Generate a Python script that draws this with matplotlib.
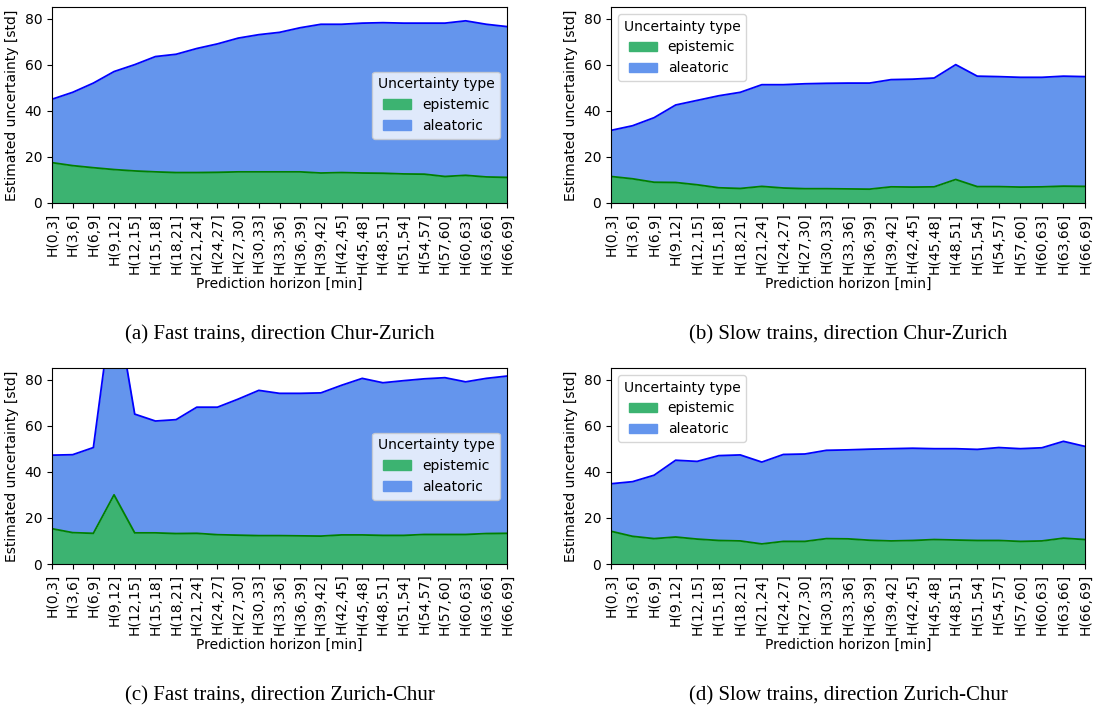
import matplotlib
matplotlib.use("Agg")
import matplotlib.pyplot as plt
import numpy as np
from matplotlib.patches import Patch

horizons = [f"H({s},{s+3}]" for s in range(0, 69, 3)]

epi_a = [17.5, 16.2, 15.3, 14.5, 13.9, 13.5, 13.2, 13.2, 13.3, 13.5, 13.5, 13.5,
         13.5, 13.0, 13.2, 13.0, 12.9, 12.6, 12.5, 11.5, 12.0, 11.3, 11.1]
tot_a = [45.0, 48.0, 52.0, 57.0, 60.0, 63.5, 64.5, 67.0, 69.0, 71.5, 73.0, 74.0,
         76.0, 77.5, 77.5, 78.0, 78.2, 78.0, 78.0, 78.0, 79.0, 77.5, 76.5]

epi_b = [11.5, 10.5, 9.0, 8.9, 7.9, 6.6, 6.3, 7.2, 6.5, 6.2, 6.2, 6.1,
         6.0, 7.0, 6.9, 7.0, 10.2, 7.1, 7.1, 6.9, 7.0, 7.3, 7.2]
tot_b = [31.5, 33.5, 37.0, 42.5, 44.5, 46.5, 48.0, 51.3, 51.3, 51.7, 51.9, 52.0,
         52.0, 53.5, 53.7, 54.2, 60.0, 55.0, 54.8, 54.5, 54.5, 55.0, 54.8]

epi_c = [15.3, 13.6, 13.3, 30.0, 13.5, 13.5, 13.2, 13.3, 12.7, 12.5, 12.3, 12.3,
         12.2, 12.1, 12.6, 12.6, 12.4, 12.4, 12.8, 12.8, 12.8, 13.2, 13.3]
tot_c = [47.2, 47.4, 50.5, 118.0, 65.0, 62.0, 62.6, 68.0, 68.0, 71.5, 75.3, 74.0,
         74.0, 74.2, 77.5, 80.5, 78.6, 79.5, 80.3, 80.8, 79.0, 80.5, 81.5]

epi_d = [14.2, 12.0, 11.0, 11.7, 10.8, 10.2, 10.0, 8.7, 9.8, 9.8, 11.0, 10.9,
         10.3, 10.0, 10.2, 10.6, 10.4, 10.2, 10.2, 9.8, 10.0, 11.2, 10.6]
tot_d = [34.8, 35.7, 38.5, 45.0, 44.5, 47.0, 47.3, 44.2, 47.5, 47.7, 49.3, 49.5,
         49.8, 50.0, 50.2, 50.0, 50.0, 49.7, 50.5, 50.0, 50.4, 53.2, 51.0]

captions = ["(a) Fast trains, direction Chur-Zurich",
            "(b) Slow trains, direction Chur-Zurich",
            "(c) Fast trains, direction Zurich-Chur",
            "(d) Slow trains, direction Zurich-Chur"]

panels = [(epi_a, tot_a, "center right"), (epi_b, tot_b, "upper left"),
          (epi_c, tot_c, "center right"), (epi_d, tot_d, "upper left")]

fig = plt.figure(figsize=(10.95, 7.12), dpi=100)
lefts = [52 / 1095, 611 / 1095]
width = [455 / 1095, 474 / 1095]
bottoms = [1 - 203 / 712, 1 - 564 / 712]
height = 196 / 712
cap_y = [1 - 335 / 712, 1 - 696 / 712]

for i, (epi, tot, loc) in enumerate(panels):
    r, c = divmod(i, 2)
    ax = fig.add_axes([lefts[c], bottoms[r], width[c], height])
    x = np.arange(len(horizons))
    ax.fill_between(x, 0, epi, color="mediumseagreen", lw=0)
    ax.fill_between(x, epi, tot, color="cornflowerblue", lw=0)
    ax.plot(x, epi, color="green", lw=1.3)
    ax.plot(x, tot, color="blue", lw=1.3)
    ax.set_xlim(0, len(horizons) - 1)
    ax.set_ylim(0, 85)
    ax.set_yticks([0, 20, 40, 60, 80])
    ax.set_xticks(x)
    ax.set_xticklabels(horizons, rotation=90, fontsize=10)
    ax.tick_params(axis="y", labelsize=10)
    ax.set_ylabel("Estimated uncertainty [std]", fontsize=10)
    ax.set_xlabel("Prediction horizon [min]", fontsize=10, labelpad=2)
    handles = [Patch(facecolor="mediumseagreen", edgecolor="mediumseagreen"),
               Patch(facecolor="cornflowerblue", edgecolor="cornflowerblue")]
    ax.legend(handles, ["epistemic", "aleatoric"], title="Uncertainty type",
              loc=loc, fontsize=10, title_fontsize=10)
    fig.text(lefts[c] + width[c] / 2, cap_y[r], captions[i], ha="center", va="center",
             family="Liberation Serif", fontsize=15)

fig.savefig("out.png", dpi=100)
